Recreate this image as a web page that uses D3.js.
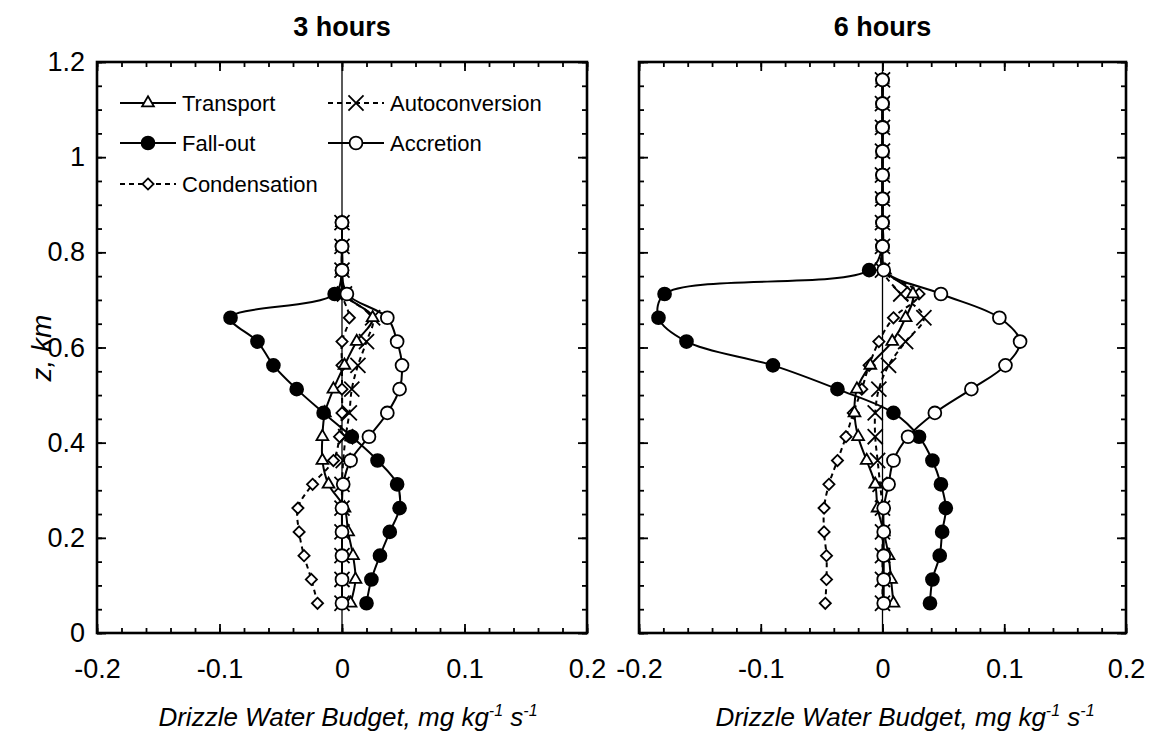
<!DOCTYPE html>
<html>
<head>
<meta charset="utf-8">
<script src="https://cdn.jsdelivr.net/npm/d3@7"></script>
<style>
  body { margin: 0; background: #fff; }
  text { font-family: "Liberation Sans", Arial, Helvetica, sans-serif; fill: #000; }
</style>
</head>
<body>
<svg id="chart" width="1156" height="743"></svg>
<script>
// heights of the model levels, km
const zLevels = [0.0625, 0.1125, 0.1625, 0.2125, 0.2625, 0.3125, 0.3625, 0.4125, 0.4625, 0.5125,
                 0.5625, 0.6125, 0.6625, 0.7125, 0.7625, 0.8125, 0.8625, 0.9125, 0.9625, 1.0125,
                 1.0625, 1.1125, 1.1625];

const xTickValues = [-0.2, -0.1, 0, 0.1, 0.2];
const yTickValues = [0, 0.2, 0.4, 0.6, 0.8, 1, 1.2];
const seriesNames = ["Transport", "Autoconversion", "Fall-out", "Accretion", "Condensation"];

// 3 hours (levels up to 0.8625 km)
const transport3  = [0.007, 0.011, 0.009, 0.005, 0.002, -0.011, -0.016, -0.016, -0.014, -0.007, 0.002, 0.012, 0.025, 0.002, 0, 0, 0];
const fallout3    = [0.020, 0.024, 0.031, 0.039, 0.047, 0.045, 0.029, 0.008, -0.015, -0.037, -0.056, -0.069, -0.091, -0.006, 0, 0, 0];
const accretion3  = [0, 0, 0, 0, 0, 0.001, 0.007, 0.022, 0.037, 0.047, 0.049, 0.045, 0.037, 0.004, 0, 0, 0];
const autoconv3   = [0, 0, 0, 0, 0, 0, 0.001, 0.003, 0.006, 0.008, 0.013, 0.020, 0.025, 0.002, 0, 0, 0];
const condens3    = [-0.020, -0.025, -0.031, -0.035, -0.036, -0.024, -0.007, -0.002, 0, 0, 0, 0, 0.006, 0, 0, 0, 0];

// 6 hours (all levels)
const transport6  = [0.009, 0.007, 0.005, 0.001, -0.004, -0.006, -0.013, -0.020, -0.023, -0.021, -0.010, 0.008, 0.019, 0.025, 0.002, 0, 0, 0, 0, 0, 0, 0, 0];
const fallout6    = [0.039, 0.041, 0.047, 0.049, 0.052, 0.048, 0.041, 0.030, 0.009, -0.037, -0.090, -0.161, -0.184, -0.179, -0.011, 0, 0, 0, 0, 0, 0, 0, 0];
const accretion6  = [0.001, 0.001, 0.001, 0.001, 0.001, 0.005, 0.009, 0.021, 0.043, 0.073, 0.101, 0.113, 0.096, 0.048, 0.001, 0, 0, 0, 0, 0, 0, 0, 0];
const autoconv6   = [0, 0, 0, 0, 0, -0.002, -0.004, -0.006, -0.006, -0.003, 0.005, 0.019, 0.034, 0.015, 0, 0, 0, 0, 0, 0, 0, 0, 0];
const condens6    = [-0.047, -0.046, -0.046, -0.048, -0.048, -0.044, -0.037, -0.030, -0.024, -0.017, -0.011, -0.003, 0.009, 0.030, 0, 0, 0, 0, 0, 0, 0, 0, 0];

// how each series is drawn
const style = {
  "Transport":      { symbol: d3.symbolTriangle, size: 60,  fill: "#fff", dash: null },
  "Autoconversion": { symbol: d3.symbolTimes,    size: 150, fill: "none", dash: "5,4" },
  "Fall-out":       { symbol: d3.symbolCircle,   size: 130, fill: "#000", dash: null },
  "Accretion":      { symbol: d3.symbolCircle,   size: 130, fill: "#fff", dash: null },
  "Condensation":   { symbol: d3.symbolDiamond2, size: 80,  fill: "#fff", dash: "5,4" }
};
// accretion last, so its open circles sit on top where everything is zero
const drawOrder = ["Condensation", "Autoconversion", "Transport", "Fall-out", "Accretion"];

const panels = [
  { title: "3 hours", left: 97, right: 587, titleX: 348,
    series: { "Transport": transport3, "Fall-out": fallout3, "Accretion": accretion3,
              "Autoconversion": autoconv3, "Condensation": condens3 } },
  { title: "6 hours", left: 639, right: 1126, titleX: 905,
    series: { "Transport": transport6, "Fall-out": fallout6, "Accretion": accretion6,
              "Autoconversion": autoconv6, "Condensation": condens6 } }
];

const plotTop = 62, plotBottom = 633;
const svg = d3.select("#chart");

const y = d3.scaleLinear().domain([0, 1.2]).range([plotBottom, plotTop]);

panels.forEach((p, pi) => {
  const x = d3.scaleLinear().domain([-0.2, 0.2]).range([p.left, p.right]);
  const g = svg.append("g");

  // minor / major ticks, pointing inward on all four sides
  const xMinor = d3.range(-0.2, 0.2001, 0.02).map(v => +v.toFixed(2));
  const yMinor = d3.range(0, 1.2001, 0.05).map(v => +v.toFixed(2));

  const axes = [
    [d3.axisBottom(x).tickValues(xMinor).tickSize(-5).tickFormat(""), `translate(0,${plotBottom})`],
    [d3.axisTop(x).tickValues(xMinor).tickSize(-5).tickFormat(""), `translate(0,${plotTop})`],
    [d3.axisTop(x).tickValues(xTickValues).tickSize(-9).tickFormat(""), `translate(0,${plotTop})`],
    [d3.axisLeft(y).tickValues(yMinor).tickSize(-5).tickFormat(""), `translate(${p.left},0)`],
    [d3.axisRight(y).tickValues(yMinor).tickSize(-5).tickFormat(""), `translate(${p.right},0)`],
    [d3.axisRight(y).tickValues(yTickValues).tickSize(-9).tickFormat(""), `translate(${p.right},0)`]
  ];
  axes.forEach(([ax, tr]) => {
    const a = g.append("g").attr("transform", tr).call(ax);
    a.select(".domain").remove();
    a.selectAll("line").attr("stroke", "#000").attr("stroke-width", 1.8);
  });

  // bottom axis with labels (plain hyphen for the minus sign, as in the original)
  const xb = g.append("g").attr("transform", `translate(0,${plotBottom})`)
    .call(d3.axisBottom(x).tickValues(xTickValues).tickSize(-9).tickPadding(26)
      .tickFormat(d => String(d)));
  xb.select(".domain").remove();
  xb.selectAll("line").attr("stroke", "#000").attr("stroke-width", 1.8);
  xb.selectAll("text").attr("font-size", 27).attr("fill", "#000");

  // left axis; labels only on the first panel
  const yl = g.append("g").attr("transform", `translate(${p.left},0)`)
    .call(d3.axisLeft(y).tickValues(yTickValues).tickSize(-9).tickPadding(12)
      .tickFormat(d => pi === 0 ? String(d) : ""));
  yl.select(".domain").remove();
  yl.selectAll("line").attr("stroke", "#000").attr("stroke-width", 1.8);
  yl.selectAll("text").attr("font-size", 27).attr("fill", "#000");

  // frame
  g.append("rect")
    .attr("x", p.left).attr("y", plotTop)
    .attr("width", p.right - p.left).attr("height", plotBottom - plotTop)
    .attr("fill", "none").attr("stroke", "#000").attr("stroke-width", 2.6);

  // zero line
  g.append("line")
    .attr("x1", x(0)).attr("x2", x(0)).attr("y1", plotTop).attr("y2", plotBottom)
    .attr("stroke", "#000").attr("stroke-width", 1.3);

  // title
  g.append("text")
    .attr("x", x(0)).attr("y", 36)
    .attr("text-anchor", "middle")
    .attr("font-size", 27).attr("font-weight", "bold")
    .text(p.title);

  // x-axis title
  const xt = g.append("text")
    .attr("x", p.titleX).attr("y", 726)
    .attr("text-anchor", "middle")
    .attr("font-size", 26).attr("font-style", "italic");
  xt.append("tspan").text("Drizzle Water Budget, mg kg");
  xt.append("tspan").attr("dy", -10).attr("font-size", 16).text("-1");
  xt.append("tspan").attr("dy", 10).text(" s");
  xt.append("tspan").attr("dy", -10).attr("font-size", 16).text("-1");

  const line = d3.line()
    .x(d => x(d.v))
    .y(d => y(d.z))
    .curve(d3.curveCatmullRom.alpha(0.5));

  const pts = name => p.series[name].map((v, i) => ({ v: v, z: zLevels[i] }));

  // lines
  drawOrder.forEach(name => {
    g.append("path")
      .datum(pts(name))
      .attr("d", line)
      .attr("fill", "none")
      .attr("stroke", "#000")
      .attr("stroke-width", 2)
      .attr("stroke-dasharray", style[name].dash);
  });

  // markers
  drawOrder.forEach(name => {
    const s = style[name];
    g.append("g").selectAll("path")
      .data(pts(name))
      .join("path")
      .attr("transform", d => `translate(${x(d.v)},${y(d.z)})`)
      .attr("d", d3.symbol().type(s.symbol).size(s.size))
      .attr("fill", s.fill)
      .attr("stroke", "#000")
      .attr("stroke-width", 1.8);
  });
});

// y-axis title
svg.append("text")
  .attr("transform", "translate(51,348) rotate(-90)")
  .attr("text-anchor", "middle")
  .attr("font-size", 28).attr("font-style", "italic")
  .text("z, km");

// legend in the first panel
const legendItems = [
  { name: "Transport",      x: 120, y: 103 },
  { name: "Autoconversion", x: 328, y: 103 },
  { name: "Fall-out",       x: 120, y: 143 },
  { name: "Accretion",      x: 328, y: 143 },
  { name: "Condensation",   x: 120, y: 184 }
];
const legend = svg.append("g");
legendItems.forEach(it => {
  const s = style[it.name];
  const lg = legend.append("g").attr("transform", `translate(${it.x},${it.y})`);
  lg.append("line")
    .attr("x1", 0).attr("x2", 56).attr("y1", 0).attr("y2", 0)
    .attr("stroke", "#000").attr("stroke-width", 2)
    .attr("stroke-dasharray", s.dash);
  lg.append("path")
    .attr("transform", "translate(28,0)")
    .attr("d", d3.symbol().type(s.symbol).size(s.size))
    .attr("fill", s.fill)
    .attr("stroke", "#000").attr("stroke-width", 1.8);
  lg.append("text")
    .attr("x", 62).attr("y", 8)
    .attr("font-size", 22)
    .text(it.name);
});
</script>
</body>
</html>
